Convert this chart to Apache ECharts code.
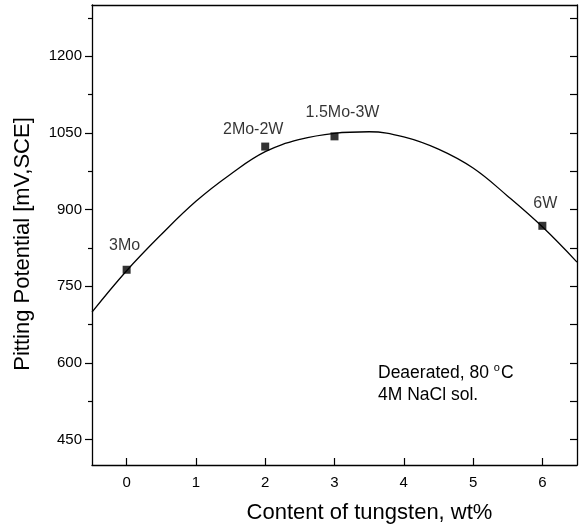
<!DOCTYPE html>
<html><head><meta charset="utf-8">
<script src="https://cdn.jsdelivr.net/npm/echarts@6/dist/echarts.min.js"></script>
<style>html,body{margin:0;padding:0;background:#fff}#c{width:587px;height:526px}</style>
</head><body><div id="c"></div>
<script>
// Measured points
const pointNames = ['3Mo', '2Mo-2W', '1.5Mo-3W', '6W'];
const pointX = [0, 2, 3, 6];
const pointY = [782, 1023, 1043, 868];
// Fitted curve
const curveX = [-0.5, 0, 0.5, 1, 1.5, 2, 2.5, 3, 3.5, 4, 4.5, 5, 5.5, 6, 6.5];
const curveY = [699, 780, 851, 916, 969, 1013, 1037, 1049, 1052, 1042, 1018, 981, 926, 866, 797];
// Ticks
const xTicks = [0, 1, 2, 3, 4, 5, 6];
const yTicks = [450, 600, 750, 900, 1050, 1200];
const yMinorTicks = [525, 675, 825, 975, 1125, 1275];
const yAllTicks = [450, 525, 600, 675, 750, 825, 900, 975, 1050, 1125, 1200, 1275];

const labelOffsets = [[-2, -24], [-12, -17], [8, -24], [3, -22]];
const FONT = 'Liberation Sans, Arial, sans-serif';
const chart = echarts.init(document.getElementById('c'), null, {renderer: 'canvas'});
const line = {lineStyle: {color: '#000', width: 1.3}};
chart.setOption({
  animation: false,
  backgroundColor: '#fff',
  grid: {left: 92, right: 10, top: 5, bottom: 61, containLabel: false, outerBoundsMode: 'none'},
  xAxis: [{
    type: 'value', min: -0.5, max: 6.5, position: 'bottom',
    name: 'Content of tungsten, wt%', nameLocation: 'middle', nameGap: 37,
    nameTextStyle: {fontFamily: FONT, fontSize: 22, color: '#000', padding: [0, 0, 0, 70]},
    axisLine: {show: true, onZero: false, ...line},
    axisTick: {show: true, inside: true, length: 7, customValues: xTicks, lineStyle: {color: '#000', width: 1.2}},
    axisLabel: {customValues: xTicks, formatter: v => String(v), fontFamily: FONT, fontSize: 15, color: '#000', margin: 10},
    splitLine: {show: false}
  }, {
    type: 'value', min: -0.5, max: 6.5, position: 'top',
    axisLine: {show: true, onZero: false, ...line},
    axisTick: {show: false}, axisLabel: {show: false}, splitLine: {show: false}
  }],
  yAxis: [{
    type: 'value', min: 400, max: 1300, position: 'left',
    name: 'Pitting Potential [mV,SCE]', nameLocation: 'middle', nameGap: 58, nameRotate: 90,
    nameTextStyle: {fontFamily: FONT, fontSize: 22, color: '#000', padding: [0, 18, 0, 0]},
    axisLine: {show: true, onZero: false, ...line},
    axisTick: {show: true, inside: false, length: 7, customValues: yTicks, lineStyle: {color: '#000', width: 1.2}},
    axisLabel: {customValues: yTicks, formatter: v => String(v), fontFamily: FONT, fontSize: 15, color: '#000', margin: 10},
    splitLine: {show: false}
  }, {
    type: 'value', min: 400, max: 1300, position: 'left',
    axisLine: {show: false, onZero: false},
    axisTick: {show: true, inside: false, length: 4, customValues: yMinorTicks, lineStyle: {color: '#000', width: 1.2}},
    axisLabel: {show: false}, splitLine: {show: false}
  }, {
    type: 'value', min: 400, max: 1300, position: 'right',
    axisLine: {show: true, onZero: false, ...line},
    axisTick: {show: true, inside: true, length: 7, customValues: yAllTicks, lineStyle: {color: '#000', width: 1.2}},
    axisLabel: {show: false}, splitLine: {show: false}
  }],
  series: [{
    type: 'line', smooth: 0.4, showSymbol: false, symbol: 'none',
    data: curveX.map((x, i) => [x, curveY[i]]),
    lineStyle: {color: '#000', width: 1.3}, z: 2
  }, {
    type: 'scatter', symbol: 'rect', symbolSize: 8,
    itemStyle: {color: '#000'},
    data: pointX.map((x, i) => ({
      value: [x, pointY[i]], name: pointNames[i],
      label: {show: true, formatter: pointNames[i], position: 'inside', offset: labelOffsets[i],
        fontFamily: FONT, fontSize: 16, color: '#000'}
    })), z: 3
  }],
  graphic: [{
    type: 'text', left: 378, top: 362,
    style: {
      text: 'Deaerated, 80 {sup|o}C\n4M NaCl sol.',
      font: '17.5px ' + FONT, fill: '#000', lineHeight: 22,
      rich: {sup: {fontSize: 11, verticalAlign: 'top', padding: [0, 1, 9, 0], fontFamily: FONT}}
    }
  }]
});
</script></body></html>
